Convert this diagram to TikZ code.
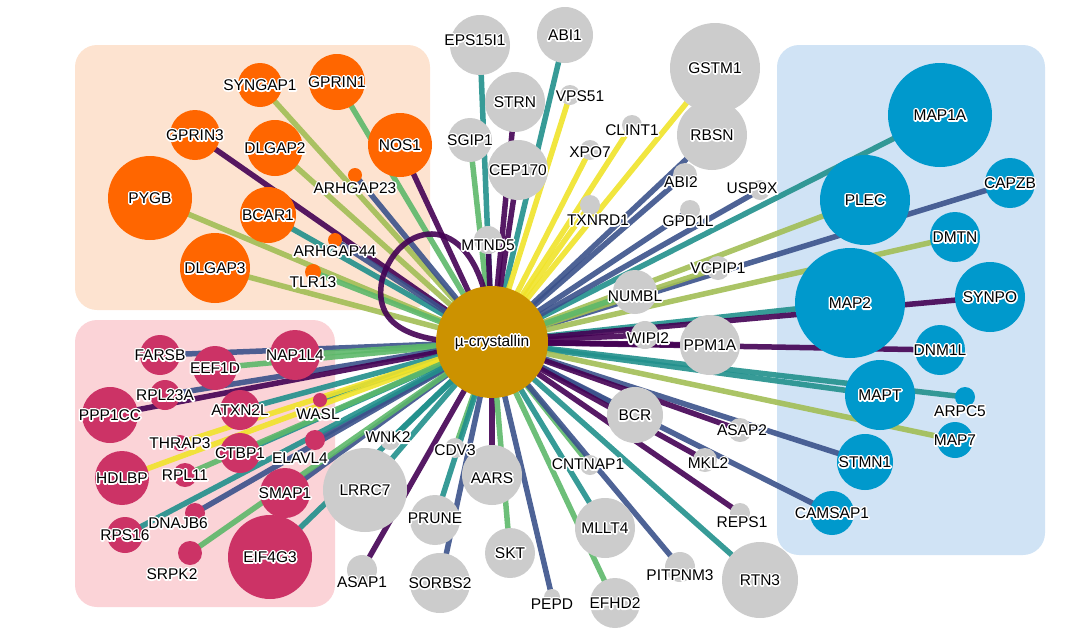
\documentclass[tikz,border=0pt]{standalone}
\usepackage{fontspec}
\setmainfont{Liberation Sans}
\definecolor{vA}{HTML}{440154}
\definecolor{vB}{HTML}{3B528B}
\definecolor{vC}{HTML}{21908C}
\definecolor{vD}{HTML}{5DB86A}
\definecolor{vE}{HTML}{A2BE55}
\definecolor{vF}{HTML}{F0E32A}
\definecolor{cO}{HTML}{FF6600}
\definecolor{cR}{HTML}{CC3366}
\definecolor{cB}{HTML}{0099CC}
\definecolor{cG}{HTML}{CCCCCC}
\definecolor{cM}{HTML}{CC9200}
\definecolor{boxO}{HTML}{FDE3D0}
\definecolor{boxR}{HTML}{FBD3D7}
\definecolor{boxB}{HTML}{D0E3F5}
% white outline round a label
\newcommand\outlined[1]{\special{pdf:literal 1 1 1 RG 3.2 w 1 j 2 Tr}\rlap{#1}\special{pdf:literal 0 Tr}#1}
\begin{document}
\begin{tikzpicture}[x=1pt,y=-1pt]

\tikzstyle{groupbox}=[rounded corners=22pt]
\tikzstyle{link}=[line width=5.5pt, opacity=0.9]
\tikzstyle{dot}=[circle, inner sep=0pt]
\tikzstyle{genename}=[font=\fontsize{15.5}{17}\selectfont, inner sep=1pt]

\useasboundingbox (0,0) rectangle (1072,633);

\fill[groupbox, boxO] (75,45) rectangle (430,310);
\fill[groupbox, boxR] (75,320) rectangle (335,607);
\fill[groupbox, boxB] (777,45) rectangle (1045,555);

\coordinate (mu) at (492,342);

% name/x/y/radius/fill/edge/label x/label y
\def\members{SYNGAP1/260/85/22/cO/vE/260/85, GPRIN1/337/82/28/cO/vD/337/82,
GPRIN3/195/135/25/cO/vA/195/135, DLGAP2/275/148/28/cO/vE/275/148,
NOS1/400/145/32/cO/vA/400/145, ARHGAP23/355/175/7/cO/vB/355/188,
PYGB/150/198/42/cO/vE/150/198, BCAR1/268/215/28/cO/vC/268/215,
ARHGAP44/335/240/7/cO/vB/335/251, DLGAP3/215/268/35/cO/vE/215/268,
TLR13/313/272/8/cO/vD/313/282,
FARSB/160/355/20/cR/vB/160/355, EEF1D/215/368/22/cR/vD/215/368,
NAP1L4/295/355/25/cR/vD/295/355, RPL23A/165/395/15/cR/vB/165/395,
PPP1CC/110/415/28/cR/vA/110/415, ATXN2L/240/410/20/cR/vC/240/410,
WASL/320/400/7/cR/vC/318/414, THRAP3/180/443/8/cR/vF/180/443,
CTBP1/240/453/20/cR/vC/240/453, ELAVL4/315/440/10/cR/vB/300/458,
HDLBP/122/478/27/cR/vF/122/478, RPL11/185/475/12/cR/vD/185/475,
SMAP1/285/493/25/cR/vB/285/493, DNAJB6/195/513/10/cR/vB/178/523,
RPS16/125/535/18/cR/vC/125/535, EIF4G3/270/557/42/cR/vC/270/557,
SRPK2/190/553/12/cR/vD/172/574,
MAP1A/940/115/52/cB/vC/940/115, CAPZB/1010/183/25/cB/vB/1010/183,
PLEC/865/200/45/cB/vE/865/200, DMTN/955/237/25/cB/vE/955/237,
MAP2/850/303/55/cB/vC/850/303, SYNPO/990/297/35/cB/vA/990/297,
DNM1L/940/350/25/cB/vA/940/350, MAPT/880/395/35/cB/vC/880/395,
ARPC5/965/397/10/cB/vC/960/411, MAP7/955/440/18/cB/vE/955/440,
STMN1/865/462/28/cB/vB/865/462, CAMSAP1/832/513/22/cB/vB/832/513,
EPS15I1/480/45/30/cG/vC/475/40, ABI1/565/35/28/cG/vC/565/35,
GSTM1/715/68/45/cG/vF/715/68, STRN/515/102/30/cG/vA/515/102,
VPS51/570/95/10/cG/vF/580/96, SGIP1/470/140/22/cG/vD/470/140,
CLINT1/632/125/10/cG/vF/632/130, RBSN/712/135/35/cG/vB/712/135,
XPO7/590/150/10/cG/vF/590/152, CEP170/518/170/30/cG/vA/518/170,
ABI2/685/175/12/cG/vB/681/182, USP9X/760/190/10/cG/vB/752/188,
TXNRD1/590/205/10/cG/vF/598/220, GPD1L/690/210/10/cG/vB/688/221,
MTND5/488/240/14/cG/vA/488/245, VCPIP1/718/268/12/cG/vE/718/268,
NUMBL/635/292/22/cG/vD/635/296, WIPI2/645/335/14/cG/vA/648/338,
PPM1A/710/345/30/cG/vA/710/345, BCR/635/415/28/cG/vB/635/415,
ASAP2/740/430/12/cG/vA/742/430, WNK2/390/440/10/cG/vC/388/437,
CDV3/455/448/10/cG/vD/455/450, MKL2/705/460/12/cG/vA/708/463,
CNTNAP1/590/465/10/cG/vD/588/464, AARS/492/475/30/cG/vA/492/478,
LRRC7/365/490/42/cG/vC/365/490, PRUNE/435/520/25/cG/vC/435/518,
MLLT4/605/528/30/cG/vC/605/528, REPS1/740/513/10/cG/vA/742/522,
SKT/510/553/25/cG/vD/510/553, SORBS2/440/583/30/cG/vB/440/583,
ASAP1/362/570/15/cG/vA/362/582, PITPNM3/680/567/15/cG/vB/680/575,
RTN3/760/580/38/cG/vC/760/580, PEPD/552/597/8/cG/vB/552/604,
EFHD2/615/603/25/cG/vD/615/603}

\foreach \n/\x/\y/\r/\f/\e/\lx/\ly in \members
  \coordinate (c-\n) at (\x,\y);
\foreach \n/\x/\y/\r/\f/\e/\lx/\ly in \members
  \draw[link, \e] (mu) -- (c-\n);

% self-loop
\draw[link, vA] (mu) .. controls (485,205) and (400,215) .. (382,280)
  .. controls (372,330) and (420,345) .. (mu);

\foreach \n/\x/\y/\r/\f/\e/\lx/\ly in \members
  \node[dot, fill=\f, minimum size=2*\r] (\n) at (c-\n) {};
\node[dot, fill=cM, minimum size=112] (crys) at (mu) {};

\foreach \n/\x/\y/\r/\f/\e/\lx/\ly in \members
  \node[genename] (l-\n) at (\lx,\ly) {\outlined{\n}};
\node[genename] (l-crys) at (mu) {\outlined{µ-crystallin}};

\end{tikzpicture}
\end{document}
